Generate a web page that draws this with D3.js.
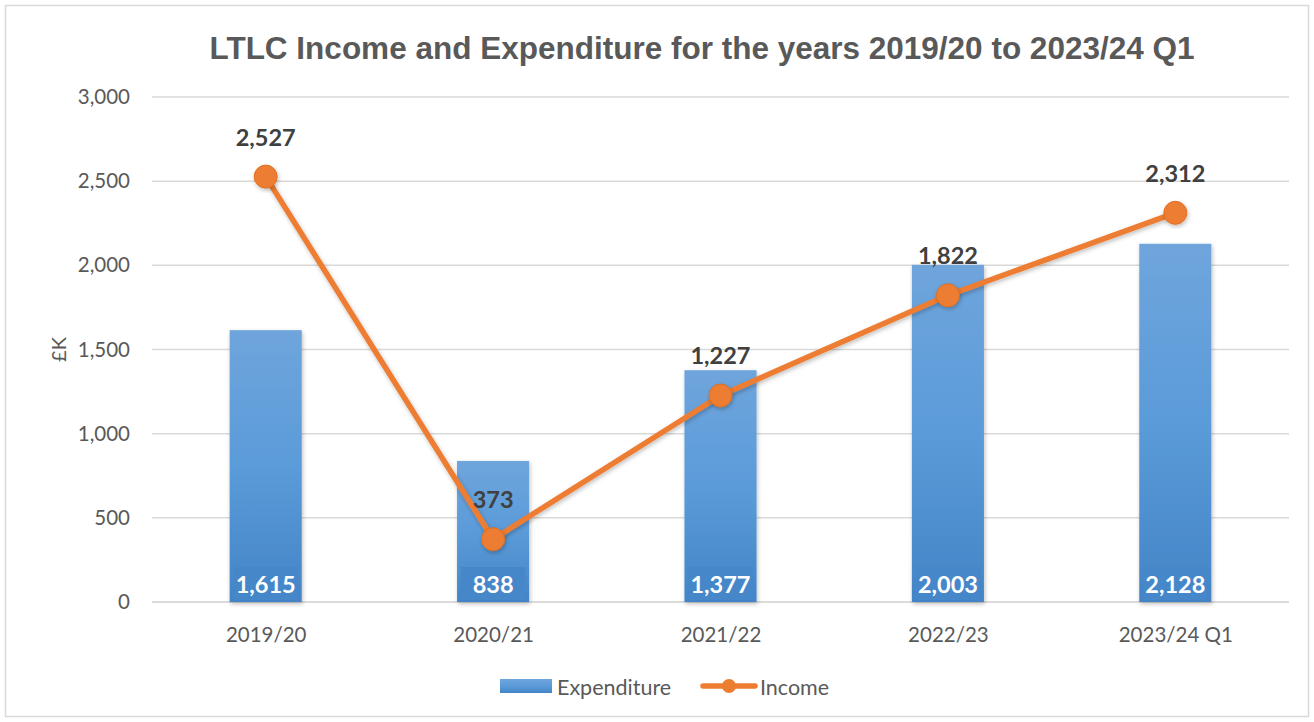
<!DOCTYPE html>
<html>
<head>
<meta charset="utf-8">
<script src="https://cdn.jsdelivr.net/npm/d3@7"></script>
<style>
  html, body { margin: 0; padding: 0; background: #fff; }
  svg { display: block; }
</style>
</head>
<body>
<svg id="chart" width="1314" height="722"></svg>
<script>
// Financial years shown on the x axis
const categories = ["2019/20", "2020/21", "2021/22", "2022/23", "2023/24 Q1"];
// Expenditure per year (£K)
const expenditure = [1615, 838, 1377, 2003, 2128];
// Income per year (£K)
const income = [2527, 373, 1227, 1822, 2312];
// Y axis tick values
const yTicks = [0, 500, 1000, 1500, 2000, 2500, 3000];

const svg = d3.select("#chart");
const W = 1314, H = 722;
const margin = { left: 152, top: 97 };
const plotRight = 1289, plotBottom = 602;

const fmt = d3.format(",");
const textFont = "Lato, 'Open Sans', 'Liberation Sans', sans-serif";

// Outer frame
svg.append("rect")
  .attr("x", 5.5).attr("y", 5.5)
  .attr("width", W - 11).attr("height", H - 11)
  .attr("fill", "#fff").attr("stroke", "#d9d9d9").attr("stroke-width", 1.5);

const defs = svg.append("defs");
const grad = defs.append("linearGradient")
  .attr("id", "barGrad").attr("x1", 0).attr("y1", 0).attr("x2", 0).attr("y2", 1);
grad.append("stop").attr("offset", "0%").attr("stop-color", "#6fa5dc");
grad.append("stop").attr("offset", "50%").attr("stop-color", "#5b9bd9");
grad.append("stop").attr("offset", "100%").attr("stop-color", "#4384c6");

const shadow = defs.append("filter").attr("id", "shadow")
  .attr("x", "-20%").attr("y", "-20%").attr("width", "140%").attr("height", "140%");
shadow.append("feDropShadow").attr("dx", 1).attr("dy", 2).attr("stdDeviation", 2)
  .attr("flood-color", "#000").attr("flood-opacity", 0.25);

const x = d3.scaleBand()
  .domain(categories)
  .range([margin.left, plotRight])
  .paddingInner(0.683).paddingOuter(0.3415);

const xCenter = d3.scalePoint()
  .domain(categories)
  .range([margin.left, plotRight])
  .padding(0.5);

const y = d3.scaleLinear().domain([0, 3000]).range([plotBottom, margin.top]);

// Gridlines
svg.append("g")
  .selectAll("line")
  .data(yTicks)
  .join("line")
  .attr("x1", margin.left).attr("x2", plotRight)
  .attr("y1", d => y(d)).attr("y2", d => y(d))
  .attr("stroke", "#d9d9d9").attr("stroke-width", 1.5);

// Y axis labels
const yAxis = d3.axisLeft(y).tickValues(yTicks).tickFormat(fmt).tickSize(0).tickPadding(22);
const gy = svg.append("g").attr("transform", `translate(${margin.left},0)`).call(yAxis);
gy.select(".domain").remove();
gy.selectAll("text")
  .attr("fill", "#595959").attr("font-size", 20.5).attr("font-family", textFont);

// X axis labels
const xAxis = d3.axisBottom(xCenter).tickSize(0).tickPadding(0);
const gx = svg.append("g").attr("transform", `translate(0,${plotBottom})`).call(xAxis);
gx.select(".domain").attr("stroke", "#d9d9d9").attr("stroke-width", 1.5)
  .attr("d", `M${margin.left},0H${plotRight}`);
gx.selectAll("text")
  .attr("y", 32).attr("dy", null).attr("dominant-baseline", "central")
  .attr("fill", "#595959").attr("font-size", 20.5).attr("font-family", textFont);

// Y axis title
svg.append("text")
  .attr("transform", `translate(58,${(margin.top + plotBottom) / 2}) rotate(-90)`)
  .attr("text-anchor", "middle").attr("dominant-baseline", "central")
  .attr("fill", "#595959").attr("font-size", 20).attr("font-family", textFont)
  .text("£K");

// Expenditure bars
svg.append("g")
  .selectAll("rect")
  .data(expenditure)
  .join("rect")
  .attr("x", (d, i) => x(categories[i]))
  .attr("width", x.bandwidth())
  .attr("y", d => y(d))
  .attr("height", d => y(0) - y(d))
  .attr("fill", "url(#barGrad)")
  .attr("filter", "url(#shadow)");

// Expenditure labels inside bar bottoms
const barLabels = svg.append("g");
expenditure.forEach((d, i) => {
  const cx = xCenter(categories[i]);
  barLabels.append("rect")
    .attr("x", x(categories[i]) + 4).attr("width", x.bandwidth() - 8)
    .attr("y", y(0) - 35).attr("height", 33)
    .attr("fill", "#4587c9");
  barLabels.append("text")
    .attr("x", cx).attr("y", y(0) - 18)
    .attr("text-anchor", "middle").attr("dominant-baseline", "central")
    .attr("fill", "#fff").attr("font-weight", "bold")
    .attr("font-size", 23.5).attr("font-family", textFont)
    .text(fmt(d));
});

// Income line
const line = d3.line()
  .x((d, i) => xCenter(categories[i]))
  .y(d => y(d));

svg.append("path")
  .datum(income)
  .attr("d", line)
  .attr("fill", "none")
  .attr("stroke", "#ed7d31").attr("stroke-width", 5.5)
  .attr("stroke-linejoin", "round")
  .attr("filter", "url(#shadow)");

svg.append("g")
  .selectAll("circle")
  .data(income)
  .join("circle")
  .attr("cx", (d, i) => xCenter(categories[i]))
  .attr("cy", d => y(d))
  .attr("r", 11.5)
  .attr("fill", "#ed7d31")
  .attr("stroke", "#e06f22").attr("stroke-width", 1)
  .attr("filter", "url(#shadow)");

// Income labels above markers
svg.append("g")
  .selectAll("text")
  .data(income)
  .join("text")
  .attr("x", (d, i) => xCenter(categories[i]))
  .attr("y", d => y(d) - 40)
  .attr("text-anchor", "middle").attr("dominant-baseline", "central")
  .attr("fill", "#404040").attr("font-weight", "bold")
  .attr("font-size", 23.5).attr("font-family", textFont)
  .text(d => fmt(d));

// Title
svg.append("text")
  .attr("x", 702).attr("y", 48)
  .attr("text-anchor", "middle").attr("dominant-baseline", "central")
  .attr("fill", "#595959").attr("font-weight", "bold")
  .attr("font-size", 31.5).attr("font-family", "'Liberation Sans', Arial, sans-serif")
  .text("LTLC Income and Expenditure for the years 2019/20 to 2023/24 Q1");

// Legend
const legend = svg.append("g").attr("font-family", textFont).attr("font-size", 21.5).attr("fill", "#595959");
legend.append("rect")
  .attr("x", 500).attr("y", 679).attr("width", 52).attr("height", 14)
  .attr("fill", "url(#barGrad)");
legend.append("text").attr("x", 557).attr("y", 687).attr("dominant-baseline", "central").text("Expenditure");
legend.append("line")
  .attr("x1", 703).attr("x2", 755).attr("y1", 686).attr("y2", 686)
  .attr("stroke", "#ed7d31").attr("stroke-width", 5.5).attr("stroke-linecap", "round");
legend.append("circle").attr("cx", 729).attr("cy", 686).attr("r", 7).attr("fill", "#ed7d31");
legend.append("text").attr("x", 760).attr("y", 687).attr("dominant-baseline", "central").text("Income");
</script>
</body>
</html>
